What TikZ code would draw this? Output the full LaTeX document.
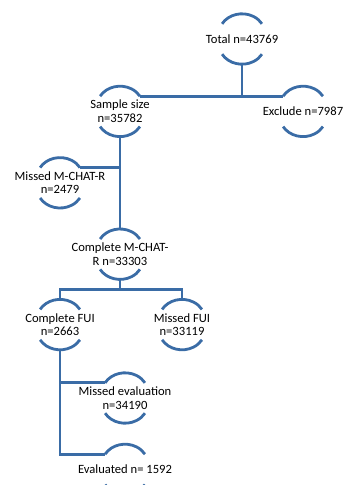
\documentclass[tikz,border=0pt]{standalone}
\usepackage{fontspec}
\setmainfont{Carlito}
\usepackage{xcolor}
\usepackage{tikz}
\usetikzlibrary{positioning}
\definecolor{steel}{HTML}{3A6CA6}

\begin{document}
\begin{tikzpicture}[
  group/.style={minimum width=40pt,minimum height=50pt,inner sep=0pt,align=center,font=\fontsize{12.6}{13.5}\selectfont},
  rim/.style={draw=steel,line width=2.8pt},
  link/.style={draw=steel,line width=2.8pt},
  node distance=21pt
]
\useasboundingbox (0,0) rectangle (343pt,-485pt);
\clip (0,0) rectangle (343pt,-485pt);
\node[group] (total) at (242pt,-39pt) {Total n=43769};
\node[group,below=22pt of total,xshift=-122pt] (sample) {Sample size\\n=35782};
\node[group,below=22pt of total,xshift=61pt] (exclude) {Exclude n=7987};
\node[group,below=of sample,xshift=-60pt] (mchat) {Missed M-CHAT-R\\n=2479};
\node[group,below=of mchat,xshift=60pt] (complete) {Complete M-CHAT-\\R n=33303};
\node[group,below=20pt of complete,xshift=-60pt] (cfui) {Complete FUI\\n=2663};
\node[group,below=20pt of complete,xshift=62pt] (mfui) {Missed FUI\\n=33119};
\node[group,below=23pt of cfui,xshift=65pt] (meval) {Missed evaluation\\n=34190};
\node[group,below=of meval] (eval) {Evaluated n= 1592};

\foreach \n in {total,sample,exclude,mchat,complete,cfui,mfui,meval,eval}{
  \draw[rim] ([xshift=-19.9pt,yshift=-10pt]\n.north) coordinate (\n-tl) arc[start angle=150,end angle=30,x radius=23pt,y radius=20pt] coordinate (\n-tr);
  \draw[rim] ([xshift=-19.9pt,yshift=10pt]\n.south) arc[start angle=210,end angle=330,x radius=23pt,y radius=20pt];
}

\draw[link] (sample-tr) -- (exclude-tl);
\draw[link] (total.south) -- (total.south |- sample-tr);
\draw[link] (sample.south) -- (complete.north);
\draw[link] (mchat-tr) -- (mchat-tr -| sample.south);
\coordinate[below=10pt of complete] (fuisplit);
\draw[link] (complete.south) -- (fuisplit);
\draw[link] (cfui.north) |- (fuisplit) -| (mfui.north);
\draw[link] (cfui.south) |- (eval-tl);
\draw[link] (meval-tl) -- (meval-tl -| cfui.south);
\end{tikzpicture}
\end{document}
